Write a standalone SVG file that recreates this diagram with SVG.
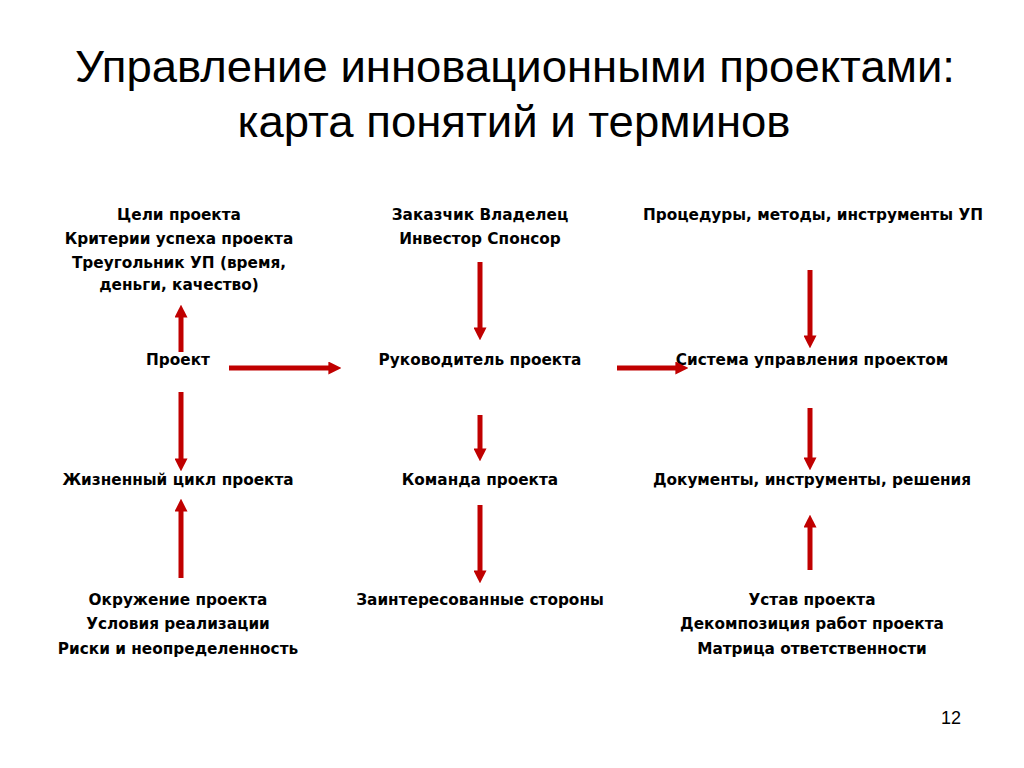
<svg xmlns="http://www.w3.org/2000/svg" width="1024" height="768" viewBox="0 0 1024 768">
<defs>
<style>
.t{font-family:"Liberation Sans",Arial,sans-serif;font-size:44px;fill:#000;text-anchor:middle}
.n{font-family:"DejaVu Sans","Liberation Sans",sans-serif;font-weight:bold;font-size:15.3px;fill:#000;text-anchor:middle}
.c line{stroke:#C00000;stroke-width:5;marker-end:url(#ah)}
.pg{font-family:"Liberation Sans",Arial,sans-serif;font-size:18px;fill:#000;text-anchor:middle}
</style>
<marker id="ah" viewBox="0 0 10 10" refX="2" refY="5" markerWidth="2.6" markerHeight="2.6" orient="auto" markerUnits="strokeWidth">
<path d="M0,0 L10,5 L0,10 z" fill="#C00000"/>
</marker>
</defs>
<rect width="1024" height="768" fill="#fff"/>
<g id="title">
<text class="t" x="515" y="82" textLength="880" lengthAdjust="spacingAndGlyphs">Управление инновационными проектами:</text>
<text class="t" x="514" y="137" textLength="553" lengthAdjust="spacingAndGlyphs">карта понятий и терминов</text>
</g>
<g id="n-goals">
<text class="n" x="179" y="220">Цели проекта</text>
<text class="n" x="179" y="244">Критерии успеха проекта</text>
<text class="n" x="179" y="268">Треугольник УП (время,</text>
<text class="n" x="179" y="290">деньги, качество)</text>
</g>
<g id="n-customer">
<text class="n" x="480" y="220">Заказчик Владелец</text>
<text class="n" x="480" y="244">Инвестор Спонсор</text>
</g>
<g id="n-procedures">
<text class="n" x="813" y="220">Процедуры, методы, инструменты УП</text>
</g>
<g id="n-project">
<text class="n" x="178" y="365">Проект</text>
</g>
<g id="n-manager">
<text class="n" x="480" y="365">Руководитель проекта</text>
</g>
<g id="n-system">
<text class="n" x="812" y="365">Система управления проектом</text>
</g>
<g id="n-lifecycle">
<text class="n" x="178" y="485">Жизненный цикл проекта</text>
</g>
<g id="n-team">
<text class="n" x="480" y="485">Команда проекта</text>
</g>
<g id="n-docs">
<text class="n" x="812" y="485">Документы, инструменты, решения</text>
</g>
<g id="n-environment">
<text class="n" x="178" y="605">Окружение проекта</text>
<text class="n" x="178" y="629">Условия реализации</text>
<text class="n" x="178" y="654">Риски и неопределенность</text>
</g>
<g id="n-stakeholders">
<text class="n" x="480" y="605">Заинтересованные стороны</text>
</g>
<g id="n-charter">
<text class="n" x="812" y="605">Устав проекта</text>
<text class="n" x="812" y="629">Декомпозиция работ проекта</text>
<text class="n" x="812" y="654">Матрица ответственности</text>
</g>
<g id="connectors" class="c">
<line x1="181" y1="352" x2="181" y2="315"/>
<line x1="229" y1="368" x2="331" y2="368"/>
<line x1="181" y1="392" x2="181" y2="461"/>
<line x1="181" y1="578" x2="181" y2="509"/>
<line x1="480" y1="262" x2="480" y2="330"/>
<line x1="617" y1="368" x2="678" y2="368"/>
<line x1="480" y1="415" x2="480" y2="451"/>
<line x1="480" y1="505" x2="480" y2="573"/>
<line x1="810" y1="270" x2="810" y2="338"/>
<line x1="810" y1="408" x2="810" y2="460"/>
<line x1="810" y1="570" x2="810" y2="525"/>
</g>
<text class="pg" x="951" y="724">12</text>
</svg>
